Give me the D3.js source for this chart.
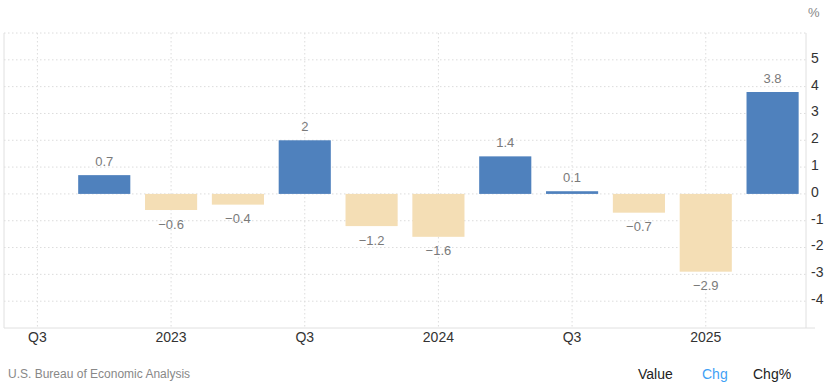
<!DOCTYPE html>
<html>
<head>
<meta charset="utf-8">
<script src="https://cdn.jsdelivr.net/npm/d3@7"></script>
<style>
  body { margin: 0; background: #fff; }
  svg { display: block; font-family: "Liberation Sans", Arial, sans-serif; }
</style>
</head>
<body>
<svg id="chart" width="829" height="388"></svg>
<script>
// quartale (erstes ohne wert, nur fuer die achse)
var quarters = ["2022Q3", "2022Q4", "2023Q1", "2023Q2", "2023Q3", "2023Q4",
                "2024Q1", "2024Q2", "2024Q3", "2024Q4", "2025Q1", "2025Q2"];
var values = [null, 0.7, -0.6, -0.4, 2, -1.2, -1.6, 1.4, 0.1, -0.7, -2.9, 3.8];

var tickQuarters = ["2022Q3", "2023Q1", "2023Q3", "2024Q1", "2024Q3", "2025Q1"];
var tickLabels = ["Q3", "2023", "Q3", "2024", "Q3", "2025"];
var yTicks = [-4, -3, -2, -1, 0, 1, 2, 3, 4, 5];
var yGrid = [-4, -3, -2, -1, 0, 1, 2, 3, 4, 5, 6];

var footerSource = "U.S. Bureau of Economic Analysis";
var footerTabs = ["Value", "Chg", "Chg%"];

var plot = {left: 4, right: 806, top: 33, bottom: 328};

var svg = d3.select("#chart");

var x = d3.scaleBand()
    .domain(quarters)
    .range([plot.left, plot.right])
    .paddingInner(0.22)
    .paddingOuter(0.11);

var y = d3.scaleLinear()
    .domain([-5, 6])
    .range([plot.bottom, plot.top]);

var xc = function(q) { return x(q) + x.bandwidth() / 2; };

// horizontale gitterlinien (gepunktet)
svg.append("g")
  .selectAll("line")
  .data(yGrid)
  .enter()
  .append("line")
    .attr("x1", plot.left)
    .attr("x2", plot.right)
    .attr("y1", d => y(d))
    .attr("y2", d => y(d))
    .style("stroke", "#dcdcdc")
    .style("stroke-dasharray", "1.5,2.5");

// vertikale gitterlinien
svg.append("g")
  .selectAll("line")
  .data(tickQuarters)
  .enter()
  .append("line")
    .attr("x1", d => xc(d))
    .attr("x2", d => xc(d))
    .attr("y1", plot.top)
    .attr("y2", plot.bottom)
    .style("stroke", "#dcdcdc")
    .style("stroke-dasharray", "1.5,2.5");

// rahmen links, rechts, unten
svg.append("line")
  .attr("x1", plot.left).attr("x2", plot.left)
  .attr("y1", plot.top).attr("y2", plot.bottom)
  .style("stroke", "#e0e0e0");
svg.append("line")
  .attr("x1", plot.right).attr("x2", plot.right)
  .attr("y1", plot.top).attr("y2", plot.bottom)
  .style("stroke", "#e0e0e0");
svg.append("line")
  .attr("x1", plot.left).attr("x2", plot.right + 9)
  .attr("y1", plot.bottom).attr("y2", plot.bottom)
  .style("stroke", "#e0e0e0");

// balken
var data = quarters.map((q, i) => ({q: q, v: values[i]})).filter(d => d.v !== null);

svg.append("g")
  .selectAll("rect")
  .data(data)
  .enter()
  .append("rect")
    .attr("x", d => x(d.q))
    .attr("width", x.bandwidth())
    .attr("y", d => y(Math.max(0, d.v)))
    .attr("height", d => Math.abs(y(d.v) - y(0)))
    .style("fill", d => d.v >= 0 ? "#4f81bd" : "#f4deb5");

// werte an den balken
var fmt = function(v) { return v < 0 ? "\u2212" + Math.abs(v) : String(v); };

svg.append("g")
  .selectAll("text")
  .data(data)
  .enter()
  .append("text")
    .attr("x", d => xc(d.q))
    .attr("y", d => d.v >= 0 ? y(d.v) - 14 : y(d.v) + 14)
    .attr("dy", "0.35em")
    .attr("text-anchor", "middle")
    .style("font-size", "13px")
    .style("fill", "#7a7a7a")
    .text(d => fmt(d.v));

// y-achse rechts
svg.append("g")
  .selectAll("text")
  .data(yTicks)
  .enter()
  .append("text")
    .attr("x", 811)
    .attr("y", d => y(d) - 2)
    .attr("dy", "0.35em")
    .style("font-size", "14px")
    .style("fill", "#333")
    .text(d => d);

svg.append("text")
  .attr("x", 808)
  .attr("y", 17)
  .style("font-size", "13px")
  .style("fill", "#888")
  .text("%");

// x-achse
svg.append("g")
  .selectAll("text")
  .data(tickQuarters)
  .enter()
  .append("text")
    .attr("x", d => xc(d))
    .attr("y", 342)
    .attr("text-anchor", "middle")
    .style("font-size", "14px")
    .style("fill", "#333")
    .text((d, i) => tickLabels[i]);

// fusszeile
svg.append("text")
  .attr("x", 8)
  .attr("y", 378)
  .style("font-size", "12px")
  .style("fill", "#888")
  .text(footerSource);

var tabX = [638, 702, 753];
svg.append("g")
  .selectAll("text")
  .data(footerTabs)
  .enter()
  .append("text")
    .attr("x", (d, i) => tabX[i])
    .attr("y", 379)
    .style("font-size", "14px")
    .style("fill", d => d === "Chg" ? "#3fa1f5" : "#222")
    .text(d => d);
</script>
</body>
</html>
